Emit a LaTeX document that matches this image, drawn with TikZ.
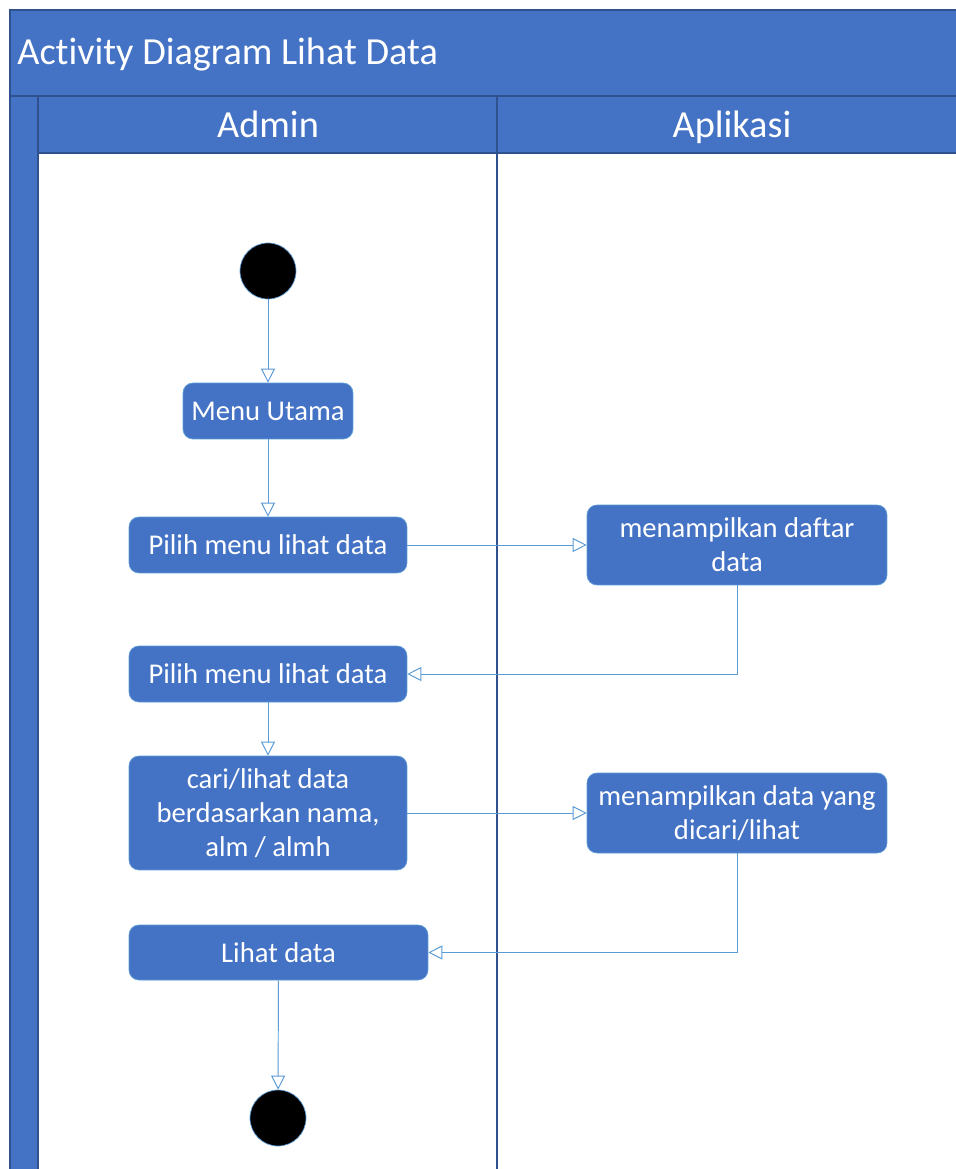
\documentclass[tikz,border=0pt]{standalone}
\usepackage{fontspec}
\setmainfont{Carlito}[Ligatures=NoCommon]
\usetikzlibrary{arrows.meta}
\definecolor{ublue}{HTML}{4472C4}
\definecolor{udark}{HTML}{2F528F}
\definecolor{uline}{HTML}{5B9BD5}
\begin{document}
\begin{tikzpicture}[x=0.02cm,y=-0.02cm,
  act/.style={rectangle, rounded corners=0.2cm, fill=ublue, draw=uline, line width=0.4pt,
    text=white, align=center, inner sep=0pt, font=\fontsize{16.3}{19.4}\selectfont},
  dot/.style={circle, fill=black, draw=uline, line width=0.4pt, minimum size=1.12cm, inner sep=0pt},
  flow/.style={draw=uline, line width=0.55pt, -{Triangle[open, length=0.28cm, width=0.28cm]}},
  lane/.style={draw=udark, line width=0.8pt},
  hdr/.style={text=white, inner sep=0pt, font=\fontsize{21.8}{26}\selectfont}]
\useasboundingbox (0,0) rectangle (956,1169);
\begin{scope}
\clip (0,0) rectangle (956,1169);
% pool
\fill[white] (0,0) rectangle (956,1169);
\filldraw[fill=ublue, lane] (10,10) rectangle (968,96);
\filldraw[fill=ublue, lane] (10,96) rectangle (38,1180);
\filldraw[fill=ublue, lane] (38,96) rectangle (497,153);
\filldraw[fill=ublue, lane] (497,96) rectangle (968,153);
\draw[lane] (38,153) -- (38,1180);
\draw[lane] (497,153) -- (497,1180);
\end{scope}
\node[hdr, anchor=base west] (title) at (17,65) {Activity Diagram Lihat Data};
\node[hdr, anchor=base] (admin) at (268,138) {Admin};
\node[hdr, anchor=base] (apl) at (732,138) {Aplikasi};
% nodes
\node[dot] (start) at (268,271) {};
\node[act, minimum width=3.4cm, minimum height=1.12cm] (mu) at (268,411) {Menu Utama};
\node[act, minimum width=5.56cm, minimum height=1.12cm] (p1) at (268,545) {Pilih menu lihat data};
\node[act, minimum width=6cm, minimum height=1.6cm] (md) at (737,545) {menampilkan daftar\\data};
\node[act, minimum width=5.56cm, minimum height=1.12cm] (p2) at (268,674) {Pilih menu lihat data};
\node[act, minimum width=5.56cm, minimum height=2.28cm] (cari) at (268,813) {cari/lihat data\\berdasarkan nama,\\alm / almh};
\node[act, minimum width=6cm, minimum height=1.6cm] (mdy) at (737,813) {menampilkan data yang\\dicari/lihat};
\node[act, minimum width=5.98cm, minimum height=1.1cm] (ld) at (278.5,952.5) {Lihat data};
\node[dot] (end) at (278,1118) {};
% flows
\draw[flow] (start) -- (mu);
\draw[flow] (mu) -- (p1);
\draw[flow] (p1) -- (md);
\draw[flow] (md.south) |- (p2.east);
\draw[flow] (p2) -- (cari);
\draw[flow] (cari.east) -- (cari.east -| mdy.west);
\draw[flow] (mdy.south) |- (ld.east);
\draw[flow] (ld) -- (end);
\end{tikzpicture}
\end{document}
